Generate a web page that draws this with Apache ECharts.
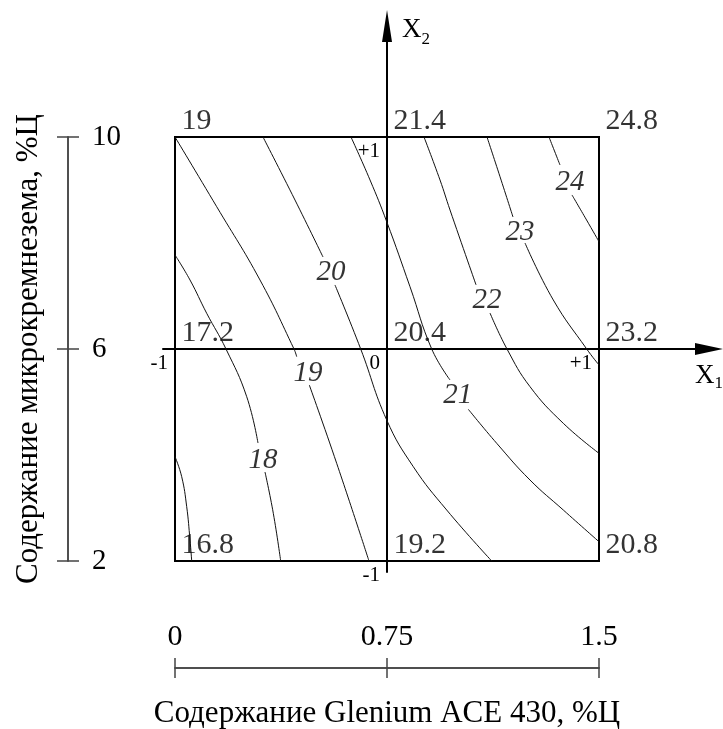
<!DOCTYPE html>
<html><head><meta charset="utf-8">
<script src="https://cdn.jsdelivr.net/npm/echarts@6/dist/echarts.min.js"></script>
<style>html,body{margin:0;padding:0;background:#fff}#c{width:723px;height:729px}</style>
</head><body><div id="c"></div>
<script>
// ---- data ----
const xLevels = [0, 0.75, 1.5];           // Glenium ACE 430, %Ц
const yLevels = [2, 6, 10];               // микрокремнезем, %Ц
const cornerValues = [                    // rows follow yLevels
  [16.8, 19.2, 20.8],
  [17.2, 20.4, 23.2],
  [19.0, 21.4, 24.8]
];
const xTicks = [0, 0.75, 1.5];
const yTicks = [2, 6, 10];
const codedXTicks = [-1, 0, 1];
const codedYTicks = [-1, 1];

// contour lines (each contour = list of segments)
const contour17 = [[[0,3.968],[0.0237,3.591],[0.0414,3.025],[0.0531,2.396],[0.0591,2.0]]];
const contour18 = [
  [[0,7.774],[0.0531,7.302],[0.1121,6.674],[0.1804,6.0],[0.2537,5.100],[0.2936,4.226]],
  [[0.3184,3.679],[0.3478,2.900],[0.3739,2.0]]
];
const contour19 = [
  [[0,10],[0.1475,8.685],[0.3007,7.302],[0.421,6.0],[0.4305,5.855]],
  [[0.4751,5.321],[0.572,3.843],[0.6863,2.0]]
];
const contour20 = [
  [[0.3113,10],[0.4245,8.811],[0.5236,7.736]],
  [[0.566,7.208],[0.657,6.0],[0.749,4.660],[0.8431,3.779],[0.9612,2.962],[1.1204,2.0]]
];
const contour21 = [
  [[0.6226,10],[0.6899,9.189],[0.749,8.402],[0.8314,7.175],[0.9082,6.0],[0.9729,5.415]],
  [[1.0377,4.862],[1.1381,4.221],[1.2559,3.528],[1.3737,2.962],[1.5,2.364]]
];
const contour22 = [
  [[0.8809,10],[0.9375,9.189],[0.9729,8.623],[1.065,7.21]],
  [[1.1144,6.679],[1.1745,6.0],[1.2559,5.289],[1.3737,4.598],[1.5,4.032]]
];
const contour23 = [
  [[1.1038,10],[1.1498,9.251],[1.1957,8.491]],
  [[1.2382,8.0],[1.3383,6.925],[1.4565,6.0],[1.5,5.698]]
];
const contour24 = [
  [[1.3231,10],[1.362,9.472]],
  [[1.4045,8.906],[1.456,8.434],[1.5,8.025]]
];
const contours = [contour17, contour18, contour19, contour20, contour21, contour22, contour23, contour24];

const contourLabelValues = [18, 19, 20, 21, 22, 23, 24];
const contourLabelX = [0.311, 0.4705, 0.5519, 1.0, 1.1038, 1.2205, 1.3974];
const contourLabelY = [3.906, 5.547, 7.453, 5.132, 6.925, 8.208, 9.151];

// ---- chart ----
const FONT = 'Liberation Serif';
const chart = echarts.init(document.getElementById('c'), null, {renderer: 'canvas'});

const series = [];
contours.forEach(function (c) {
  c.forEach(function (seg) {
    series.push({
      type: 'line', xAxisIndex: 0, yAxisIndex: 0, data: seg,
      smooth: 0.45, symbol: 'none', silent: true,
      lineStyle: {color: '#111', width: 1}
    });
  });
});
const labelData = contourLabelValues.map(function (v, i) {
  return [contourLabelX[i], contourLabelY[i], v];
});
series.push({
  type: 'scatter', xAxisIndex: 0, yAxisIndex: 0, data: labelData,
  symbolSize: 1, itemStyle: {color: 'rgba(0,0,0,0)'}, silent: true, clip: false,
  label: {show: true, position: 'inside', formatter: function (p) { return String(p.value[2]); },
    fontFamily: FONT, fontStyle: 'italic', fontSize: 29, color: '#000'}
});
const cornerData = [];
yLevels.forEach(function (y, r) {
  xLevels.forEach(function (x, c) { cornerData.push([x, y, cornerValues[r][c]]); });
});
series.push({
  type: 'scatter', xAxisIndex: 0, yAxisIndex: 0, data: cornerData,
  symbolSize: 1, itemStyle: {color: 'rgba(0,0,0,0)'}, silent: true, clip: false,
  label: {show: true, position: [7, 0], align: 'left', verticalAlign: 'bottom',
    formatter: function (p) { return String(p.value[2]); },
    fontFamily: FONT, fontSize: 30, color: '#000'}
});

const scaleLine = {show: true, onZero: false, lineStyle: {color: '#444', width: 1.5}};
const tickStyle = {color: '#444', width: 1.5};
const codedFmt = function (v) { return v > 0 ? '+' + v : String(v); };
const rich = function (sub) {
  return {
    x: {fontFamily: FONT, fontSize: 27, lineHeight: 27, verticalAlign: 'top', color: '#000'},
    s: {fontFamily: FONT, fontSize: 17, lineHeight: 17, verticalAlign: 'top', padding: [sub, 0, 0, 0], color: '#000'}
  };
};

chart.setOption({
  animation: false,
  backgroundColor: '#fff',
  grid: [
    {left: 175, top: 137, width: 424, height: 424, show: true, borderColor: '#000', borderWidth: 2,
      backgroundColor: 'transparent', outerBoundsMode: 'none', containLabel: false},
    // coded X1 axis: its bottom edge is the horizontal axis line
    {left: 163, top: 26, width: 546, height: 323, outerBoundsMode: 'none', containLabel: false},
    // coded X2 axis: its left edge is the vertical axis line
    {left: 387, top: 26, width: 322, height: 546, outerBoundsMode: 'none', containLabel: false}
  ],
  xAxis: [
    {gridIndex: 0, type: 'value', min: 0, max: 1.5, show: false},
    {gridIndex: 0, type: 'value', min: 0, max: 1.5, position: 'bottom', offset: 107,
      axisLine: scaleLine,
      axisTick: {show: true, customValues: xTicks, length: 10, lineStyle: tickStyle},
      axisLabel: {show: false}, splitLine: {show: false},
      name: 'Содержание Glenium ACE 430, %Ц', nameLocation: 'middle', nameGap: 30, nameMoveOverlap: false,
      nameTextStyle: {fontFamily: FONT, fontSize: 31, color: '#000'}},
    {gridIndex: 0, type: 'value', min: 0, max: 1.5, position: 'bottom', offset: 107,
      axisLine: scaleLine,
      axisTick: {show: true, inside: true, customValues: xTicks, length: 10, lineStyle: tickStyle},
      axisLabel: {show: true, inside: true, customValues: xTicks, margin: 16, fontFamily: FONT, fontSize: 30, color: '#000',
        formatter: function (v) { return String(v); }},
      splitLine: {show: false}},
    {gridIndex: 1, type: 'value', min: -1.0566, max: 1.5189, position: 'bottom',
      axisLine: {show: true, onZero: false, symbol: ['none', 'triangle'], symbolSize: [12, 28],
        lineStyle: {color: '#000', width: 2}},
      axisTick: {show: false}, splitLine: {show: false},
      axisLabel: {show: true, customValues: codedXTicks, formatter: codedFmt, fontFamily: FONT, fontSize: 21, color: '#000',
        align: 'right', padding: [0, 7, 0, 0], margin: 4},
      name: '{x|X}{s|1}', nameLocation: 'end', nameGap: -14, nameMoveOverlap: false,
      nameTextStyle: {align: 'left', verticalAlign: 'top', padding: [13, 0, 0, 0], rich: rich(13)}},
    {gridIndex: 2, type: 'value', min: 0, max: 1, show: false}
  ],
  yAxis: [
    {gridIndex: 0, type: 'value', min: 2, max: 10, show: false},
    {gridIndex: 0, type: 'value', min: 2, max: 10, position: 'left', offset: 107,
      axisLine: scaleLine,
      axisTick: {show: true, customValues: yTicks, length: 11, lineStyle: tickStyle},
      axisLabel: {show: false}, splitLine: {show: false},
      name: 'Содержание микрокремнезема, %Ц', nameLocation: 'middle', nameGap: 24, nameRotate: 90,
      nameMoveOverlap: false,
      nameTextStyle: {fontFamily: FONT, fontSize: 31, color: '#000'}},
    {gridIndex: 0, type: 'value', min: 2, max: 10, position: 'left', offset: 107,
      axisLine: scaleLine,
      axisTick: {show: true, inside: true, customValues: yTicks, length: 11, lineStyle: tickStyle},
      axisLabel: {show: true, inside: true, customValues: yTicks, margin: 24, fontFamily: FONT, fontSize: 29, color: '#000'},
      splitLine: {show: false}},
    {gridIndex: 1, type: 'value', min: 0, max: 1, show: false},
    {gridIndex: 2, type: 'value', min: -1.0519, max: 1.5236, position: 'left',
      axisLine: {show: true, onZero: false, symbol: ['none', 'triangle'], symbolSize: [10, 32],
        lineStyle: {color: '#000', width: 2}},
      axisTick: {show: false}, splitLine: {show: false},
      axisLabel: {show: true, customValues: codedYTicks, formatter: codedFmt, fontFamily: FONT, fontSize: 21, color: '#000',
        margin: 7, verticalAlign: 'top', padding: [4, 0, 0, 0]},
      name: '{x|X}{s|2}', nameLocation: 'end', nameGap: 10, nameMoveOverlap: false,
      nameTextStyle: {align: 'left', verticalAlign: 'top', padding: [0, 0, 0, 15], rich: rich(15)}}
  ],
  series: series
});
</script>
</body></html>
